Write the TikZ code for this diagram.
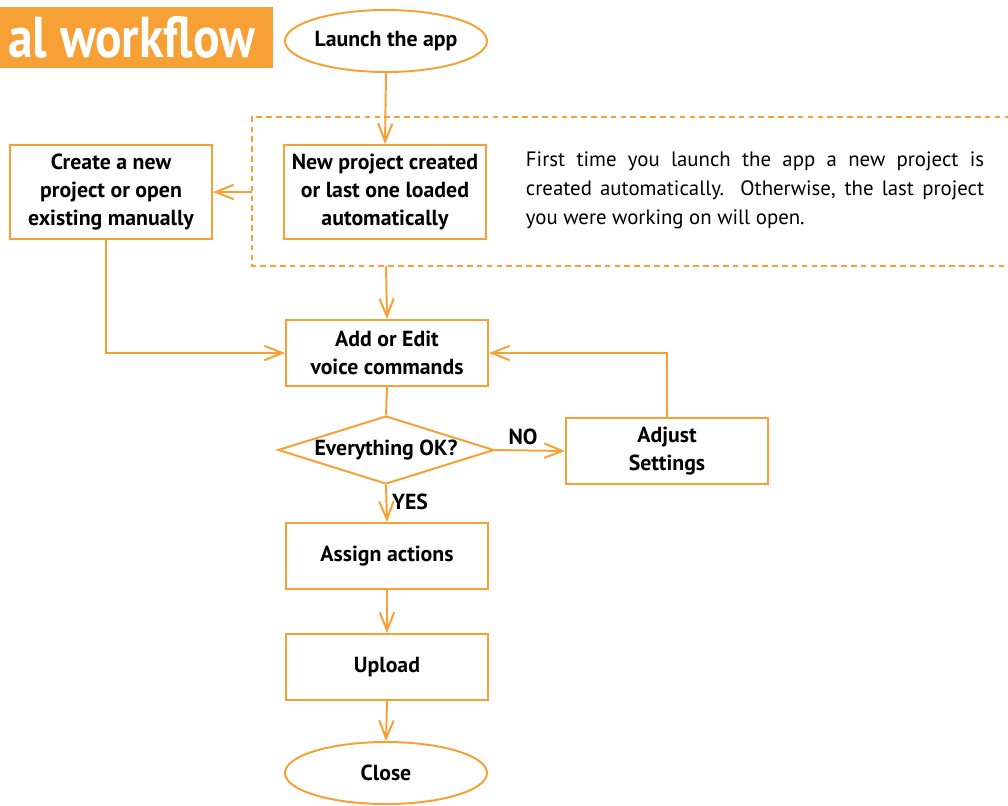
\documentclass[tikz,border=0pt]{standalone}
\usepackage{fontspec}
\setmainfont{PT Sans}
\usetikzlibrary{arrows.meta,shapes.geometric}
\definecolor{flowor}{HTML}{F7A035}
\begin{document}
\begin{tikzpicture}[x=0.025cm,y=-0.025cm,
	line width=1.4pt,
	every node/.style={font=\fontsize{15.5}{20}\selectfont\bfseries},
	flowbox/.style={draw=flowor,fill=white,rectangle,minimum width=5.05cm,minimum height=1.65cm,align=center,inner sep=2pt},
	tallbox/.style={flowbox,minimum height=2.35cm},
	endcap/.style={draw=flowor,fill=white,ellipse,minimum width=5.05cm,minimum height=1.55cm,inner sep=0pt},
	askbox/.style={draw=flowor,fill=white,diamond,aspect=3.2,minimum width=5.4cm,minimum height=1.7cm,inner sep=0pt},
	flowarr/.style={draw=flowor,-{Straight Barb[length=4.5mm,width=3.6mm]}},
	flowline/.style={draw=flowor}]
	\useasboundingbox (0,0) rectangle (1008,805);
	
	% title banner
	\fill[flowor] (0,7) rectangle (273,68);
	\node[anchor=base east,text=white,font=\fontsize{41}{44}\selectfont\bfseries,inner sep=0pt] (title) at (256,57) {\scalebox{0.86}[1]{al workflow}};
	
	% automatic part
	\draw[flowor,dash pattern=on 4pt off 3pt] (1020,117) -- (252,117) -- (252,266) -- (1020,266);
	\coordinate (dashtop) at (386,117);
	\coordinate (dashleft) at (252,192);
	\coordinate (dashbot) at (386,266);
	
	\node[endcap] (launch) at (386,41) {Launch the app};
	\node[tallbox] (newproj) at (385,192) {New project created\\or last one loaded\\automatically};
	\node[tallbox] (create) at (111,192) {Create a new\\project or open\\existing manually};
	\node[anchor=north west,text width=11.45cm,align=justify,inner sep=0pt,font=\fontsize{14.8}{20.6}\selectfont] (note) at (525,151)
		{First time you launch the app a new project is\linebreak created automatically.\ \ Otherwise, the last project\linebreak you were working on will open.};
	
	\node[flowbox] (edit) at (387,353) {Add or Edit\\voice commands};
	\node[askbox] (check) at (386,450) {Everything OK?};
	\node[flowbox] (adjust) at (667,451) {Adjust\\Settings};
	\node[flowbox] (assign) at (387,556) {Assign actions};
	\node[flowbox] (upload) at (387,667) {Upload};
	\node[endcap] (close) at (386,773) {Close};
	
	% connectors
	\draw[flowarr] (launch.south) -- (newproj.north);
	\draw[flowarr] (dashleft) -- (create.east);
	\draw[flowarr] (dashbot) -- (edit.north);
	\draw[flowarr] (create.south -| 106,0) |- (edit.west);
	\draw[flowline] (edit.south) -- (check.north);
	\draw[flowarr] (check.east) -- node[above,pos=0.4] (no) {NO} (adjust.west);
	\draw[flowarr] (adjust.north) |- (edit.east);
	\draw[flowarr] (check.south) -- node[right,pos=0.45] (yes) {YES} (assign.north);
	\draw[flowarr] (assign.south) -- (upload.north);
	\draw[flowarr] (upload.south) -- (close.north);
\end{tikzpicture}
\end{document}
